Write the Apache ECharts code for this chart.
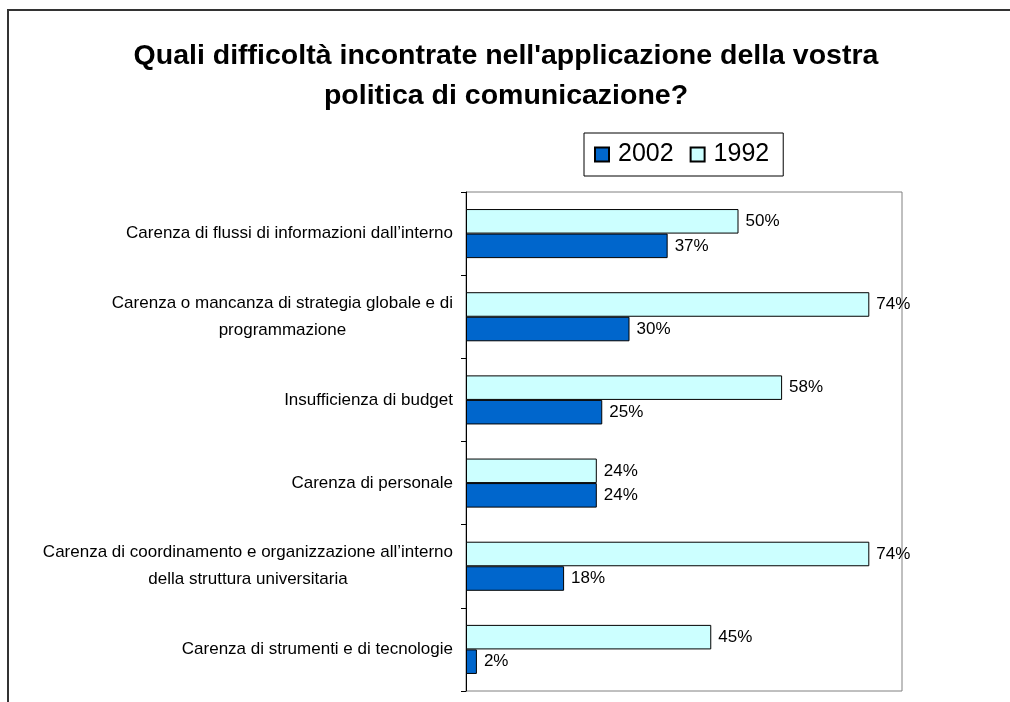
<!DOCTYPE html>
<html>
<head>
<meta charset="utf-8">
<script src="https://cdn.jsdelivr.net/npm/echarts@6/dist/echarts.min.js"></script>
<style>
  html, body { margin: 0; padding: 0; background: #fff; }
  #chart { width: 1010px; height: 702px; }
</style>
</head>
<body>
<div id="chart"></div>
<script>
// Difficulties encountered in applying the communication policy (percent of respondents)
const categories = [
  'Carenza di flussi di informazioni dall\u2019interno',
  'Carenza o mancanza di strategia globale e di\nprogrammazione',
  'Insufficienza di budget',
  'Carenza di personale',
  'Carenza di coordinamento e organizzazione all\u2019interno\ndella struttura universitaria',
  'Carenza di strumenti e di tecnologie'
];
const values1992 = [50, 74, 58, 24, 74, 45];
const values2002 = [37, 30, 25, 24, 18, 2];
const seriesNames = ['2002', '1992'];

const FONT = '"Liberation Sans", Arial, sans-serif';

const chart = echarts.init(document.getElementById('chart'));

function barSeries(name, data, color) {
  return {
    name: name,
    type: 'bar',
    data: data,
    barGap: '0%',
    barCategoryGap: '41%',
    itemStyle: { color: color, borderColor: '#000', borderWidth: 1 },
    label: {
      show: true,
      position: 'right',
      distance: 7,
      formatter: '{c}%',
      color: '#000',
      fontSize: 17,
      fontFamily: FONT
    },
    emphasis: { disabled: true },
    animation: false
  };
}

chart.setOption({
  backgroundColor: '#fff',
  animation: false,
  title: {
    text: 'Quali difficolt\u00e0 incontrate nell\'applicazione della vostra\npolitica di comunicazione?',
    left: 501,
    top: 31,
    textAlign: 'center',
    textStyle: {
      fontFamily: FONT,
      fontWeight: 'bold',
      fontSize: 28.5,
      lineHeight: 40,
      color: '#000'
    }
  },
  legend: {
    data: seriesNames,
    left: 584,
    top: 133,
    padding: [9, 14, 9, 10],
    itemGap: 16,
    itemWidth: 14,
    itemHeight: 14,
    icon: 'rect',
    borderColor: '#000',
    borderWidth: 1,
    selectedMode: false,
    textStyle: { fontFamily: FONT, fontSize: 25, color: '#000', padding: [0, 0, 0, 4] }
  },
  grid: {
    left: 466,
    top: 192,
    width: 436,
    height: 499,
    show: true,
    borderColor: '#808080',
    borderWidth: 1,
    backgroundColor: 'transparent'
  },
  xAxis: {
    type: 'value',
    min: 0,
    max: 80,
    show: false
  },
  yAxis: {
    type: 'category',
    data: categories,
    inverse: true,
    axisLine: { lineStyle: { color: '#000', width: 1 } },
    axisTick: { show: true, inside: false, length: 5, lineStyle: { color: '#000' } },
    axisLabel: {
      margin: 13,
      fontFamily: FONT,
      fontSize: 17,
      color: '#000',
      formatter: function (v) {
        return v.split('\n').map(function (s) { return '{l|' + s + '}'; }).join('\n');
      },
      rich: {
        l: { align: 'center', fontFamily: FONT, fontSize: 17, color: '#000', lineHeight: 27 }
      }
    }
  },
  graphic: [{
    type: 'polyline',
    shape: { points: [[8, 702], [8, 10], [1010, 10]] },
    style: { stroke: '#333', lineWidth: 2, fill: null },
    silent: true
  }],
  series: [
    barSeries('1992', values1992, '#CCFFFF'),
    barSeries('2002', values2002, '#0066CC')
  ]
});
</script>
</body>
</html>
